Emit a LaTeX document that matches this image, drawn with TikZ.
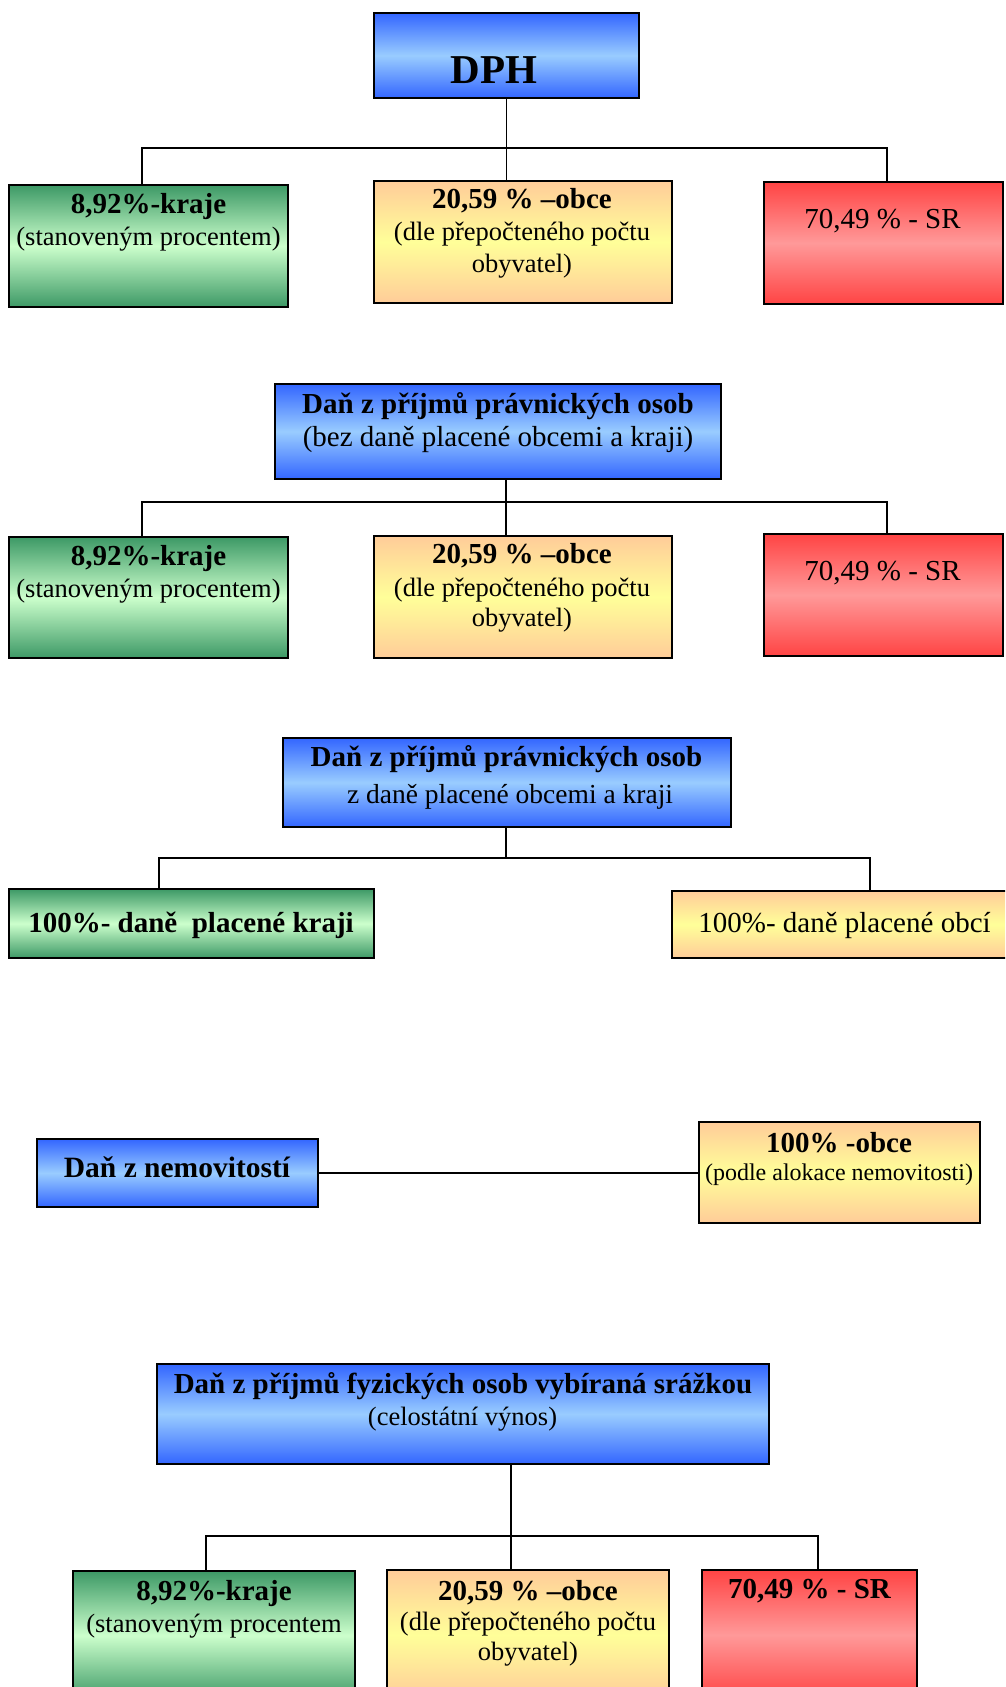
\documentclass[tikz,border=0pt]{standalone}
\usepackage{fontspec}
\setmainfont{Liberation Serif}
\begin{document}
\begin{tikzpicture}[x=1pt,y=-1pt,
  box/.style={draw=black, line width=1.8pt, rectangle, inner sep=0pt, outer sep=0pt},
  bluebox/.style={box, top color=cBlueD, bottom color=cBlueD, middle color=cBlueL},
  greenbox/.style={box, top color=cGreenD, bottom color=cGreenD, middle color=cGreenL},
  orangebox/.style={box, top color=cOrD, bottom color=cOrD, middle color=cOrL},
  redbox/.style={box, top color=cRedD, bottom color=cRedD, middle color=cRedL},
  conn/.style={draw=black, line width=1.5pt},
  hb/.style={anchor=base, inner sep=0pt, font=\fontsize{29}{32}\selectfont\bfseries},
  hr/.style={anchor=base, inner sep=0pt, font=\fontsize{29}{32}\selectfont},
  sr/.style={anchor=base, inner sep=0pt, font=\fontsize{26.5}{30}\selectfont}
]
\definecolor{cBlueD}{HTML}{3366FF}
\definecolor{cBlueL}{HTML}{99CCFF}
\definecolor{cGreenD}{HTML}{3D9966}
\definecolor{cGreenL}{HTML}{CCFFCC}
\definecolor{cOrD}{HTML}{FFCC99}
\definecolor{cOrL}{HTML}{FFFF99}
\definecolor{cRedD}{HTML}{FF4444}
\definecolor{cRedL}{HTML}{FF9999}
\useasboundingbox (0,0) rectangle (1005,1687);
\clip (0,0) rectangle (1005,1687);

% ---------- Row 1 : DPH ----------
\node[bluebox, minimum width=265, minimum height=85] (dph) at (506.5,55.5) {};
\node[greenbox, minimum width=279, minimum height=122] (k1) at (148.5,246) {};
\node[orangebox, minimum width=298, minimum height=122] (o1) at (523,242) {};
\node[redbox, minimum width=239, minimum height=122] (r1) at (883.5,243) {};
\coordinate (bus1) at (506,148);
\draw[conn] ([xshift=-6.5]k1.north) |- (bus1) -| ([xshift=3.5]r1.north);
\draw[conn] (dph.south) -- (dph.south |- o1.north);
\node[anchor=base, inner sep=0pt, font=\fontsize{41}{44}\selectfont\bfseries] (dpht) at (494,83) {DPH};
\node[hb] (k1a) at (148.5,213) {8,92\%-kraje};
\node[sr] (k1b) at (148.5,245) {(stanoveným procentem)};
\node[hb] (o1a) at (522,208) {20,59 \% –obce};
\node[sr] (o1b) at (522,240) {(dle přepočteného počtu};
\node[sr] (o1c) at (522,272) {obyvatel)};
\node[hr] (r1a) at (882.5,228) {70,49 \% - SR};

% ---------- Row 2 ----------
\node[bluebox, minimum width=446, minimum height=95] (p2) at (498,431.5) {};
\node[greenbox, minimum width=279, minimum height=121] (k2) at (148.5,597.5) {};
\node[orangebox, minimum width=298, minimum height=122] (o2) at (523,597) {};
\node[redbox, minimum width=239, minimum height=122] (r2) at (883.5,595) {};
\coordinate (bus2) at (506,502);
\draw[conn] ([xshift=-6.5]k2.north) |- (bus2) -| ([xshift=3.5]r2.north);
\draw[conn] (p2.south -| bus2) -- (bus2 |- o2.north);
\node[hb] (p2a) at (498,413) {Daň z příjmů právnických osob};
\node[hr] (p2b) at (498,446) {(bez daně placené obcemi a kraji)};
\node[hb] (k2a) at (148.5,565) {8,92\%-kraje};
\node[sr] (k2b) at (148.5,597) {(stanoveným procentem)};
\node[hb] (o2a) at (522,563) {20,59 \% –obce};
\node[sr] (o2b) at (522,596) {(dle přepočteného počtu};
\node[sr] (o2c) at (522,626) {obyvatel)};
\node[hr] (r2a) at (882.5,580) {70,49 \% - SR};

% ---------- Row 3 ----------
\node[bluebox, minimum width=448, minimum height=89] (p3) at (507,782.5) {};
\node[greenbox, minimum width=365, minimum height=69] (k3) at (191.5,923.5) {};
\node[orangebox, minimum width=340, minimum height=67] (o3) at (842,924.5) {};
\coordinate (bus3) at (506,858);
\draw[conn] (p3.south -| bus3) -- (bus3);
\draw[conn] ([xshift=-32.5]k3.north) |- (bus3) -| ([xshift=28]o3.north);
\node[hb] (p3a) at (506.5,766) {Daň z příjmů právnických osob};
\node[anchor=base, inner sep=0pt, font=\fontsize{27.5}{30}\selectfont] (p3b) at (510,803) {z daně placené obcemi a kraji};
\node[hb] (k3a) at (191,932) {100\%- daně~ placené kraji};
\node[hr] (o3a) at (844.5,932) {100\%- daně placené obcí};

% ---------- Row 4 ----------
\node[bluebox, minimum width=281, minimum height=68] (n4) at (177.5,1173) {};
\node[orangebox, minimum width=281, minimum height=101] (o4) at (839.5,1172.5) {};
\draw[conn] (n4.east) -- (o4.west |- n4.east);
\node[anchor=base, inner sep=0pt, font=\fontsize{29.5}{32}\selectfont\bfseries] (n4a) at (177,1177) {Daň z nemovitostí};
\node[hb] (o4a) at (839,1152) {100\% -obce};
\node[anchor=base, inner sep=0pt, font=\fontsize{24}{28}\selectfont] (o4b) at (839,1180) {(podle alokace nemovitosti)};

% ---------- Row 5 ----------
\node[bluebox, minimum width=612, minimum height=100] (p5) at (463,1414) {};
\node[greenbox, minimum width=282, minimum height=129] (k5) at (214,1635.5) {};
\node[orangebox, minimum width=282, minimum height=130] (o5) at (528,1635) {};
\node[redbox, minimum width=215, minimum height=130] (r5) at (809.5,1635) {};
\coordinate (bus5) at (511,1536);
\draw[conn] (p5.south -| bus5) -- (bus5 |- o5.north);
\draw[conn] ([xshift=-8]k5.north) |- (bus5) -| ([xshift=8.5]r5.north);
\node[hb] (p5a) at (463,1393) {Daň z příjmů fyzických osob vybíraná srážkou};
\node[sr] (p5b) at (462.5,1425) {(celostátní výnos)};
\node[hb] (k5a) at (214,1600) {8,92\%-kraje};
\node[sr] (k5b) at (214,1632) {(stanoveným procentem};
\node[hb] (o5a) at (528,1600) {20,59 \% –obce};
\node[sr] (o5b) at (528,1630) {(dle přepočteného počtu};
\node[sr] (o5c) at (528,1660) {obyvatel)};
\node[hb] (r5a) at (809.5,1598) {70,49 \% - SR};
\end{tikzpicture}
\end{document}
